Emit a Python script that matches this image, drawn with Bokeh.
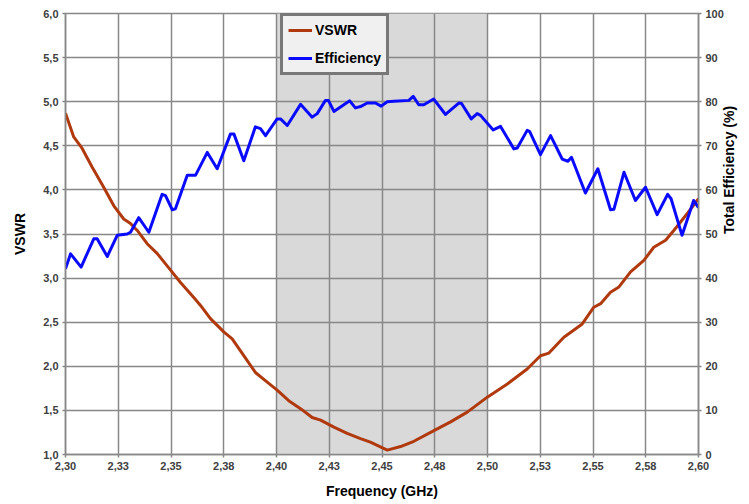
import math
from bokeh.plotting import figure
from bokeh.models import (Range1d, LinearAxis, FixedTicker, CustomJSTickFormatter,
                          BoxAnnotation, Legend, LegendItem)
from bokeh.embed import file_html
from bokeh.resources import INLINE

# ---- data ----
vswr_freq = [2.3000, 2.3039, 2.3079, 2.3126, 2.3181, 2.3229, 2.3276, 2.3308, 2.3340,
             2.3387, 2.3434, 2.3498, 2.3545, 2.3608, 2.3640, 2.3687, 2.3750, 2.3790,
             2.3845, 2.3900, 2.3956, 2.4003, 2.4058, 2.4114, 2.4169, 2.4209, 2.4272,
             2.4335, 2.4398, 2.4445, 2.4525, 2.4588, 2.4651, 2.4746, 2.4825, 2.4904,
             2.4999, 2.5094, 2.5188, 2.5251, 2.5291, 2.5362, 2.5449, 2.5504, 2.5536,
             2.5583, 2.5623, 2.5678, 2.5741, 2.5788, 2.5844, 2.5883, 2.5946, 2.6000]
vswr = [4.87, 4.60, 4.47, 4.26, 4.03, 3.82, 3.67, 3.62, 3.54,
        3.39, 3.28, 3.09, 2.95, 2.78, 2.69, 2.54, 2.39, 2.31,
        2.12, 1.93, 1.82, 1.73, 1.61, 1.52, 1.42, 1.39, 1.31,
        1.24, 1.18, 1.14, 1.05, 1.09, 1.15, 1.27, 1.37, 1.48,
        1.65, 1.80, 1.97, 2.12, 2.15, 2.33, 2.48, 2.67, 2.71,
        2.84, 2.90, 3.07, 3.20, 3.35, 3.43, 3.54, 3.73, 3.90]

eff_freq = [2.3000, 2.3024, 2.3074, 2.3134, 2.3150, 2.3198, 2.3245, 2.3292, 2.3308,
            2.3347, 2.3395, 2.3458, 2.3474, 2.3506, 2.3521, 2.3577, 2.3616, 2.3672,
            2.3719, 2.3782, 2.3798, 2.3845, 2.3900, 2.3924, 2.3948, 2.4003, 2.4019,
            2.4051, 2.4114, 2.4169, 2.4193, 2.4232, 2.4246, 2.4272, 2.4347, 2.4374,
            2.4398, 2.4430, 2.4469, 2.4496, 2.4525, 2.4556, 2.4627, 2.4648, 2.4674,
            2.4698, 2.4745, 2.4801, 2.4864, 2.4877, 2.4923, 2.4951, 2.4967, 2.5027,
            2.5062, 2.5125, 2.5141, 2.5188, 2.5200, 2.5251, 2.5299, 2.5354, 2.5381,
            2.5398, 2.5464, 2.5523, 2.5583, 2.5599, 2.5647, 2.5701, 2.5749, 2.5804,
            2.5854, 2.5870, 2.5922, 2.5977, 2.6000]
eff = [42.1, 45.5, 42.5, 48.9, 48.9, 44.9, 49.7, 50.0, 50.4,
       53.7, 50.4, 59.0, 58.7, 55.5, 55.7, 63.3, 63.3, 68.5,
       64.8, 72.7, 72.7, 66.6, 74.3, 73.9, 72.3, 76.1, 76.1,
       74.6, 79.4, 76.5, 77.3, 80.3, 80.3, 77.8, 80.2, 78.6,
       78.9, 79.7, 79.7, 79.0, 80.0, 80.1, 80.3, 81.2, 79.3,
       79.3, 80.6, 77.1, 79.7, 79.6, 76.1, 77.3, 76.9, 73.6,
       74.4, 69.3, 69.5, 73.5, 73.2, 68.0, 72.3, 67.0, 66.5,
       67.4, 59.3, 64.8, 55.5, 55.6, 64.0, 57.6, 60.6, 54.4,
       59.0, 58.0, 49.7, 57.6, 56.0]

x_ticks = [2.300, 2.325, 2.350, 2.375, 2.400, 2.425, 2.450, 2.475, 2.500,
           2.525, 2.550, 2.575, 2.600]
x_tick_labels = ["2,30", "2,33", "2,35", "2,38", "2,40", "2,43", "2,45", "2,48",
                 "2,50", "2,53", "2,55", "2,58", "2,60"]
vswr_ticks = [1.0, 1.5, 2.0, 2.5, 3.0, 3.5, 4.0, 4.5, 5.0, 5.5, 6.0]
vswr_tick_labels = ["1,0", "1,5", "2,0", "2,5", "3,0", "3,5", "4,0", "4,5", "5,0",
                    "5,5", "6,0"]
eff_ticks = [0, 10, 20, 30, 40, 50, 60, 70, 80, 90, 100]
eff_tick_labels = ["0", "10", "20", "30", "40", "50", "60", "70", "80", "90", "100"]
band_start, band_end = 2.40, 2.50

FONT = "Liberation Sans"
GRID = "#888888"

fmt_code = """
const i = tvals.findIndex(t => Math.abs(t - tick) < 1e-6);
return i >= 0 ? tlabels[i] : '';
"""

def fmt(tv, tl):
    return CustomJSTickFormatter(args=dict(tvals=tv, tlabels=tl), code=fmt_code)

p = figure(width=749, height=504, output_backend="svg", toolbar_location=None,
           x_range=Range1d(2.30, 2.60), y_range=Range1d(1.0, 6.0),
           min_border_left=65, min_border_right=51, min_border_top=13,
           min_border_bottom=50)
p.extra_y_ranges = {"eff": Range1d(0, 100)}
p.background_fill_color = "white"
p.border_fill_color = "white"
p.outline_line_color = GRID
p.outline_line_width = 1.5

band = BoxAnnotation(left=band_start, right=band_end, fill_color="#d9d9d9",
                     fill_alpha=1.0, line_color=None, level="image")
p.add_layout(band)

def style_axis(ax):
    ax.axis_line_color = GRID
    ax.axis_line_width = 1.5
    ax.major_tick_line_color = GRID
    ax.major_tick_line_width = 1.5
    ax.major_tick_out = 3
    ax.major_tick_in = 0
    ax.minor_tick_line_color = None
    ax.major_label_text_font = FONT
    ax.major_label_text_font_style = "bold"
    ax.major_label_text_font_size = "11px"
    ax.major_label_text_color = "#404040"
    ax.major_label_standoff = 4
    ax.axis_label_text_font = FONT
    ax.axis_label_text_font_style = "bold"
    ax.axis_label_text_font_size = "14px"
    ax.axis_label_text_color = "black"

p.xaxis.ticker = FixedTicker(ticks=x_ticks)
p.xaxis.formatter = fmt(x_ticks, x_tick_labels)
p.xaxis.axis_label = "Frequency (GHz)"
p.yaxis.ticker = FixedTicker(ticks=vswr_ticks)
p.yaxis.formatter = fmt(vswr_ticks, vswr_tick_labels)
p.yaxis.axis_label = "VSWR"
for ax in p.xaxis + p.yaxis:
    style_axis(ax)
p.xaxis.axis_label_standoff = 10
p.yaxis.axis_label_standoff = 12

right = LinearAxis(y_range_name="eff", ticker=FixedTicker(ticks=eff_ticks),
                   formatter=fmt(eff_ticks, eff_tick_labels),
                   axis_label="Total Efficiency (%)")
style_axis(right)
right.major_label_standoff = 4
right.axis_label_standoff = 2
right.axis_label_orientation = math.pi / 2
p.add_layout(right, "right")

p.xgrid.grid_line_color = GRID
p.ygrid.grid_line_color = GRID
p.xgrid.grid_line_width = 1.5
p.ygrid.grid_line_width = 1.5

r_vswr = p.line(vswr_freq, vswr, line_color="#B03A0E", line_width=3,
                line_join="round")
r_eff = p.line(eff_freq, eff, y_range_name="eff", line_color="#0A0AFF",
               line_width=3, line_join="round")

legend = Legend(items=[LegendItem(label="VSWR", renderers=[r_vswr]),
                       LegendItem(label="Efficiency", renderers=[r_eff])],
                location=(215, 379))
legend.label_text_font = FONT
legend.label_text_font_style = "bold"
legend.label_text_font_size = "14px"
legend.label_text_color = "black"
legend.glyph_width = 24
legend.glyph_height = 18
legend.label_height = 18
legend.spacing = 10
legend.padding = 5
legend.margin = 0
legend.label_standoff = 3
legend.border_line_color = "black"
legend.border_line_width = 3
legend.background_fill_color = "#f0f0f0"
legend.background_fill_alpha = 1.0
p.add_layout(legend)

open("out.html", "w").write(file_html(p, INLINE))
